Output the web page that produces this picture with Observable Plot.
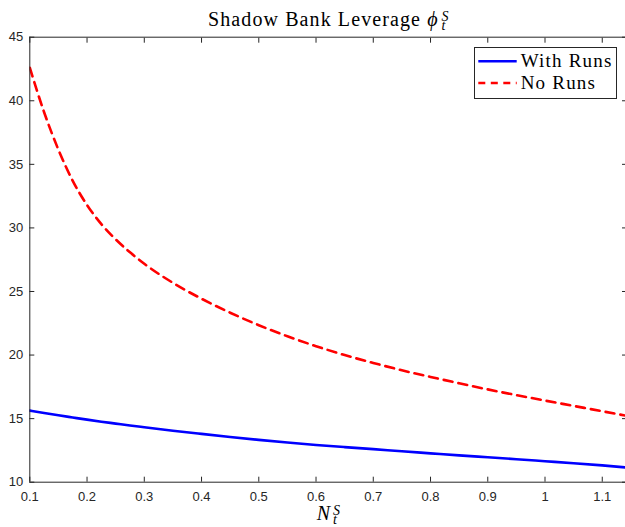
<!DOCTYPE html>
<html>
<head>
<meta charset="utf-8">
<script src="https://cdn.jsdelivr.net/npm/d3@7"></script>
<script src="https://cdn.jsdelivr.net/npm/@observablehq/plot@0.6"></script>
<style>
  body { margin: 0; background: #fff; }
  #wrap { position: relative; width: 625px; height: 527px; overflow: hidden; background: #fff; }
  #chart svg { display: block; }
  .serif { font-family: "Liberation Serif", "Times New Roman", serif; color: #000; }
  #title { position: absolute; left: 29.3px; width: 598px; top: 9px; text-align: center;
           font-size: 20px; line-height: 20px; letter-spacing: 1.1px; white-space: nowrap; }
  #xlabel { position: absolute; left: 29.3px; width: 598px; top: 503px; text-align: center;
            font-size: 20px; line-height: 20px; white-space: nowrap; }
  .ss { display: inline-block; font-size: 14px; line-height: 9px; vertical-align: -4px;
        font-style: italic; letter-spacing: 0; text-align: left; margin-left: 3px; }
  #legend { position: absolute; left: 474px; top: 46.7px; width: 141px; height: 50px;
            border: 1px solid #262626; background: #fff; }
  #legend svg { position: absolute; left: 0; top: 0; }
  .lt { position: absolute; left: 45.7px; font-size: 19px; line-height: 19px; letter-spacing: 1.2px; white-space: nowrap; }
</style>
</head>
<body>
<div id="wrap">
  <div id="chart"></div>
  <div id="title" class="serif">Shadow Bank Leverage <i>ϕ</i><span class="ss">S<br>t</span></div>
  <div id="xlabel" class="serif"><i>N</i><span class="ss">S<br>t</span></div>
  <div id="legend" class="serif">
    <svg width="141" height="50">
      <line x1="3.3" x2="41.7" y1="13.3" y2="13.3" stroke="#0000ff" stroke-width="2.6"/>
      <line x1="3.3" x2="41.7" y1="35" y2="35" stroke="#ff0000" stroke-width="2.6" stroke-dasharray="7,5.5"/>
    </svg>
    <div class="lt" style="top:3px">With Runs</div>
    <div class="lt" style="top:25.7px">No Runs</div>
  </div>
</div>
<script>
// N_t^S values (x) and leverage for the two series
const nS = [0.1, 0.125, 0.15, 0.175, 0.2, 0.225, 0.25, 0.275, 0.3, 0.35, 0.4, 0.45, 0.5, 0.55, 0.6, 0.65, 0.7, 0.75, 0.8, 0.85, 0.9, 0.95, 1.0, 1.05, 1.1, 1.145];
const withRuns = [15.63, 15.44, 15.26, 15.09, 14.92, 14.76, 14.61, 14.46, 14.32, 14.05, 13.8, 13.56, 13.33, 13.12, 12.93, 12.76, 12.6, 12.43, 12.27, 12.11, 11.96, 11.81, 11.65, 11.49, 11.32, 11.15];
const noRuns = [42.6, 39.1, 36.15, 33.7, 31.8, 30.3, 29.1, 28.08, 27.18, 25.68, 24.43, 23.33, 22.35, 21.48, 20.7, 20.0, 19.38, 18.8, 18.28, 17.78, 17.3, 16.85, 16.42, 16.0, 15.58, 15.2];
const xTicks = [0.1, 0.2, 0.3, 0.4, 0.5, 0.6, 0.7, 0.8, 0.9, 1.0, 1.1];
const xTickLabels = ["0.1", "0.2", "0.3", "0.4", "0.5", "0.6", "0.7", "0.8", "0.9", "1", "1.1"];
const yTicks = [10, 15, 20, 25, 30, 35, 40, 45];
const xDomain = [0.1, 1.1406];
const yDomain = [10, 45];

const rows = nS.map((n, i) => ({n, withRuns: withRuns[i], noRuns: noRuns[i]}));
const axisColor = "#262626";

const chart = Plot.plot({
  width: 625,
  height: 527,
  marginLeft: 29.3,
  marginRight: 0,
  marginTop: 36.7,
  marginBottom: 45.3,
  style: {fontFamily: "'Liberation Sans', Arial, Helvetica, sans-serif", fontSize: "13px", color: axisColor, background: "white", overflow: "visible"},
  x: {domain: xDomain, axis: null},
  y: {domain: yDomain, axis: null},
  marks: [
    Plot.lineY(rows, {x: "n", y: "noRuns", stroke: "#ff0000", strokeWidth: 2.6, strokeDasharray: "9,6", curve: "monotone-x", clip: true}),
    Plot.lineY(rows, {x: "n", y: "withRuns", stroke: "#0000ff", strokeWidth: 2.6, curve: "monotone-x", clip: true}),
    Plot.ruleX([xDomain[0]], {stroke: axisColor, strokeWidth: 1}),
    Plot.ruleY(yDomain, {stroke: axisColor, strokeWidth: 1}),
    Plot.axisX(xTicks, {anchor: "bottom", tickSize: -5, tickPadding: 15, tickFormat: (d, i) => xTickLabels[i], label: null, stroke: axisColor}),
    Plot.axisX(xTicks, {anchor: "top", tickSize: -5, tickFormat: () => "", label: null, stroke: axisColor}),
    Plot.axisY(yTicks, {anchor: "left", tickSize: -5, tickPadding: 11.6, label: null, stroke: axisColor}),
    Plot.axisY(yTicks, {anchor: "right", tickSize: -4, tickFormat: () => "", label: null, stroke: axisColor})
  ]
});
document.getElementById("chart").appendChild(chart);
</script>
</body>
</html>
